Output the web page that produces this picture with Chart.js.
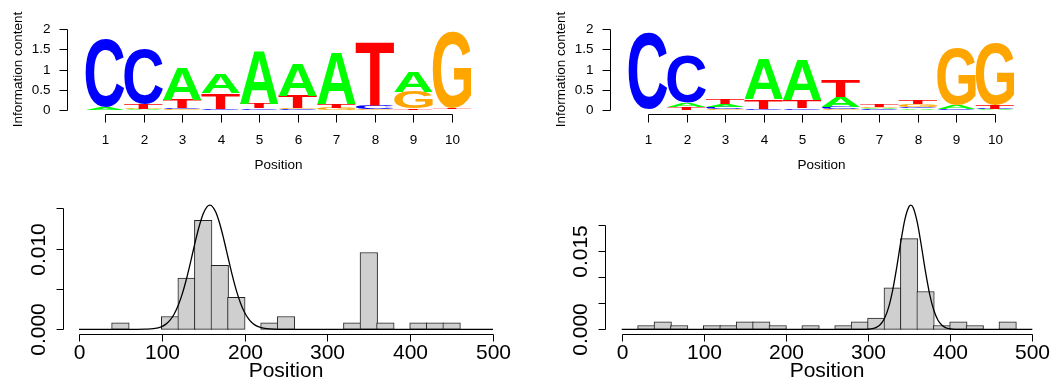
<!DOCTYPE html>
<html>
<head>
<meta charset="utf-8">
<title>Motif logos and positional distribution</title>
<script src="https://cdn.jsdelivr.net/npm/chart.js@4"></script>
<style>
  html, body { margin: 0; padding: 0; background: #fff; }
  #wrap { position: relative; width: 1064px; height: 389px; }
  #wrap canvas { position: absolute; left: 0; top: 0; }
</style>
</head>
<body>
<div id="wrap">
  <canvas id="logo1" width="1064" height="389"></canvas>
  <canvas id="logo2" width="1064" height="389"></canvas>
  <canvas id="hist1" width="1064" height="389"></canvas>
  <canvas id="hist2" width="1064" height="389"></canvas>
</div>
<script>
const positions = ['1', '2', '3', '4', '5', '6', '7', '8', '9', '10'];
const bases = ['A', 'C', 'G', 'T'];
const baseColors = { A: '#00ff00', C: '#0000ff', G: '#ffa500', T: '#ff0000' };

// information content (bits) carried by each base at each motif position
const motif1A = [0.06, 0.015, 0.80, 0.48, 1.29, 0.78, 1.27, 0.01, 0.50, 0.01];
const motif1C = [1.68, 1.37, 0.025, 0.02, 0.03, 0.02, 0.01, 0.08, 0.01, 0.01];
const motif1G = [0.005, 0.015, 0.015, 0.01, 0.01, 0.02, 0.05, 0.02, 0.41, 1.89];
const motif1T = [0.005, 0.12, 0.21, 0.39, 0.11, 0.31, 0.09, 1.55, 0.03, 0.02];

const motif2A = [0.01, 0.10, 0.06, 0.97, 0.99, 0.25, 0.025, 0.04, 0.095, 0.015];
const motif2C = [1.89, 1.17, 0.05, 0.02, 0.03, 0.05, 0.02, 0.04, 0.02, 0.015];
const motif2G = [0.005, 0.01, 0.03, 0.005, 0.01, 0.02, 0.035, 0.06, 1.40, 1.53];
const motif2T = [0.01, 0.06, 0.12, 0.23, 0.19, 0.41, 0.055, 0.08, 0.005, 0.09];

const icTicks = [0, 0.5, 1, 1.5, 2];
const icTickLabels = ['0', '0.5', '1', '1.5', '2'];

// site positions, 20 bp bins
const binStarts = [0, 20, 40, 60, 80, 100, 120, 140, 160, 180, 200, 220, 240,
  260, 280, 300, 320, 340, 360, 380, 400, 420, 440, 460, 480];
const hist1Density = [0, 0, 0.00079, 0, 0, 0.00159, 0.00635, 0.01349, 0.00794, 0.00397, 0,
  0.00079, 0.00159, 0, 0, 0, 0.00079, 0.00952, 0.00079, 0, 0.00079, 0.00079, 0.00079, 0, 0];
const hist2Density = [0, 0.00072, 0.00145, 0.00072, 0, 0.00072, 0.00072, 0.00145, 0.00145,
  0.00072, 0, 0.00072, 0, 0.00072, 0.00145, 0.00217, 0.00797, 0.01739, 0.00725, 0.00072,
  0.00145, 0.00072, 0, 0.00145, 0];

// fitted density curves
const fit1X = [0, 70, 80, 90, 100, 105, 110, 115, 120, 125, 130, 135, 140, 145, 150, 155, 158,
  160, 165, 170, 175, 180, 185, 190, 195, 200, 205, 210, 215, 220, 230, 240, 500];
const fit1Y = [0, 0, 0.00002, 0.00008, 0.00034, 0.00064, 0.00113, 0.00189, 0.0030, 0.00448,
  0.00633, 0.00845, 0.01067, 0.01271, 0.01432, 0.01524, 0.0154, 0.01533, 0.01457, 0.01308,
  0.0111, 0.0089, 0.00674, 0.00482, 0.00326, 0.00208, 0.00126, 0.00072, 0.00039, 0.0002,
  0.00004, 0, 0];
const fit2X = [0, 295, 300, 305, 310, 315, 320, 325, 330, 335, 340, 345, 350, 352, 355, 360,
  365, 370, 375, 380, 385, 390, 395, 400, 405, 500];
const fit2Y = [0, 0, 0.00004, 0.00012, 0.00036, 0.00092, 0.00208, 0.0042, 0.00753, 0.01197,
  0.0169, 0.02118, 0.02357, 0.0238, 0.0233, 0.02044, 0.01592, 0.01101, 0.00676, 0.00369,
  0.00178, 0.00077, 0.00029, 0.0001, 0, 0];

const posTicks = [0, 100, 200, 300, 400, 500];
const posTickLabels = ['0', '100', '200', '300', '400', '500'];
const dens1Ticks = [0, 0.005, 0.01, 0.015];
const dens1TickLabels = ['0.000', '', '0.010', ''];
const dens2Ticks = [0, 0.005, 0.01, 0.015, 0.02];
const dens2TickLabels = ['0.000', '', '', '0.015', ''];

const FONT = '"Liberation Sans", Arial, Helvetica, sans-serif';
const W = 1064, H = 389;

// one stacked bar dataset per rank, smallest letter at the bottom of each column
function logoDatasets(motif) {
  const ranks = [[], [], [], []];
  positions.forEach((p, i) => {
    const col = bases.map(b => ({ base: b, h: motif[b][i] })).sort((a, b) => a.h - b.h);
    col.forEach((c, r) => ranks[r].push(c));
  });
  return ranks.map(r => ({
    data: r.map(c => c.h),
    letters: r.map(c => c.base),
    backgroundColor: 'rgba(0,0,0,0)',
    borderWidth: 0,
    barPercentage: 1,
    categoryPercentage: 1
  }));
}

const glyphs = {};
function glyphBox(ctx, ch) {
  if (!glyphs[ch]) {
    ctx.font = 'bold 200px ' + FONT;
    const m = ctx.measureText(ch);
    glyphs[ch] = {
      l: m.actualBoundingBoxLeft, r: m.actualBoundingBoxRight,
      a: m.actualBoundingBoxAscent, d: m.actualBoundingBoxDescent
    };
  }
  return glyphs[ch];
}

// letter stretched to fill the box of its bar
function drawLetter(ctx, ch, x0, x1, yTop, yBot) {
  const h = yBot - yTop;
  if (h <= 0) return;
  ctx.save();
  const g = glyphBox(ctx, ch);
  ctx.font = 'bold 200px ' + FONT;
  ctx.textAlign = 'left';
  ctx.textBaseline = 'alphabetic';
  ctx.translate(x0, yTop);
  ctx.scale((x1 - x0) / (g.l + g.r), h / (g.a + g.d));
  ctx.fillStyle = baseColors[ch];
  ctx.fillText(ch, g.l, g.a);
  ctx.restore();
}

const letterPlugin = {
  id: 'logoLetters',
  afterDatasetsDraw(chart) {
    const ctx = chart.ctx;
    chart.data.datasets.forEach((ds, di) => {
      chart.getDatasetMeta(di).data.forEach((bar, i) => {
        const { x, y, base, width } = bar.getProps(['x', 'y', 'base', 'width'], true);
        drawLetter(ctx, ds.letters[i], x - width / 2, x + width / 2, y, base);
      });
    });
  }
};

// base-graphics style axes: detached from the plot region, spanning first to last tick
function rAxes(s) {
  return {
    id: 'rAxes',
    afterDraw(chart) {
      const { ctx, chartArea: area } = chart;
      const xs = chart.scales.x, ys = chart.scales.y;
      ctx.save();
      ctx.strokeStyle = '#000';
      ctx.fillStyle = '#000';
      ctx.lineWidth = 1;
      ctx.font = s.fontSize + 'px ' + FONT;

      const xp = s.xTicks.map(v => Math.round(xs.getPixelForValue(v)) + 0.5);
      const ay = Math.round(area.bottom + s.xGap) + 0.5;
      ctx.beginPath();
      ctx.moveTo(xp[0], ay);
      ctx.lineTo(xp[xp.length - 1], ay);
      xp.forEach(px => { ctx.moveTo(px, ay); ctx.lineTo(px, ay + s.tickLen); });
      ctx.stroke();
      ctx.textAlign = 'center';
      ctx.textBaseline = 'middle';
      s.xLabels.forEach((t, i) => ctx.fillText(t, xp[i], ay + s.xLabelOff));
      ctx.fillText(s.xTitle, (area.left + area.right) / 2, ay + s.xTitleOff);

      const yp = s.yTicks.map(v => Math.round(ys.getPixelForValue(v)) + 0.5);
      const ax = Math.round(area.left - s.yGap) + 0.5;
      ctx.beginPath();
      ctx.moveTo(ax, yp[0]);
      ctx.lineTo(ax, yp[yp.length - 1]);
      yp.forEach(py => { ctx.moveTo(ax, py); ctx.lineTo(ax - s.tickLen, py); });
      ctx.stroke();
      s.yLabels.forEach((t, i) => {
        if (!t) return;
        if (s.yRotate) {
          ctx.save();
          ctx.translate(ax - s.yLabelOff, yp[i]);
          ctx.rotate(-Math.PI / 2);
          ctx.textAlign = 'center';
          ctx.fillText(t, 0, 0);
          ctx.restore();
        } else {
          ctx.textAlign = 'right';
          ctx.fillText(t, ax - s.yLabelOff, yp[i]);
        }
      });
      if (s.yTitle) {
        ctx.save();
        ctx.translate(ax - s.yTitleOff, (area.top + area.bottom) / 2);
        ctx.rotate(-Math.PI / 2);
        ctx.textAlign = 'center';
        ctx.fillText(s.yTitle, 0, 0);
        ctx.restore();
      }
      ctx.restore();
    }
  };
}

const baseOptions = (padding) => ({
  responsive: false,
  animation: false,
  devicePixelRatio: 1,
  events: [],
  layout: { padding },
  plugins: { legend: { display: false }, tooltip: { enabled: false } }
});

function logoChart(id, motif, left, right) {
  const opts = baseOptions({ left, right: W - right, top: 29, bottom: H - 110 });
  opts.scales = {
    x: { display: false, stacked: true },
    y: { display: false, stacked: true, min: 0, max: 2 }
  };
  new Chart(document.getElementById(id), {
    type: 'bar',
    data: { labels: positions, datasets: logoDatasets(motif) },
    options: opts,
    plugins: [letterPlugin, rAxes({
      fontSize: 13.5, tickLen: 8,
      xTicks: positions.map((p, i) => i), xLabels: positions, xTitle: 'Position',
      xGap: 4.3, xLabelOff: 26.2, xTitleOff: 51.2,
      yTicks: icTicks, yLabels: icTickLabels, yTitle: 'Information content',
      yGap: 18.7, yLabelOff: 17, yTitleOff: 49, yRotate: false
    })]
  });
}

function histChart(id, density, fitX, fitY, left, right, top, yMax, yTicks, yLabels, yGap) {
  const opts = baseOptions({ left, right: W - right, top, bottom: H - 329.3 });
  opts.scales = {
    x: { type: 'linear', display: false, min: 0, max: 500, offset: false },
    y: { display: false, min: 0, max: yMax }
  };
  const binPx = (right - left) / binStarts.length;
  new Chart(document.getElementById(id), {
    type: 'bar',
    data: {
      datasets: [{
        type: 'line',
        data: fitX.map((x, i) => ({ x, y: fitY[i] })),
        borderColor: '#000',
        borderWidth: 1.3,
        pointRadius: 0,
        cubicInterpolationMode: 'monotone',
        fill: false,
        clip: false,
        order: 0
      }, {
        type: 'bar',
        data: binStarts.map((b, i) => ({ x: b + 10, y: density[i] })).filter(d => d.y > 0),
        backgroundColor: '#cfcfcf',
        borderColor: '#222',
        borderWidth: 1,
        borderSkipped: false,
        barThickness: binPx + 1,
        clip: false,
        order: 1
      }]
    },
    options: opts,
    plugins: [rAxes({
      fontSize: 21, tickLen: 7,
      xTicks: posTicks, xLabels: posTickLabels, xTitle: 'Position',
      xGap: 5, xLabelOff: 18.5, xTitleOff: 37,
      yTicks, yLabels, yGap, yLabelOff: 24, yRotate: true
    })]
  });
}

document.addEventListener('DOMContentLoaded', () => {
  logoChart('logo1', { A: motif1A, C: motif1C, G: motif1G, T: motif1T }, 85.7, 471.3);
  logoChart('logo2', { A: motif2A, C: motif2C, G: motif2G, T: motif2T }, 628.7, 1014.3);
  histChart('hist1', hist1Density, fit1X, fit1Y, 79, 493, 200.2, 0.016, dens1Ticks, dens1TickLabels, 16);
  histChart('hist2', hist2Density, fit2X, fit2Y, 621.7, 1032.3, 198.9, 0.025, dens2Ticks, dens2TickLabels, 16.7);
});
</script>
</body>
</html>
